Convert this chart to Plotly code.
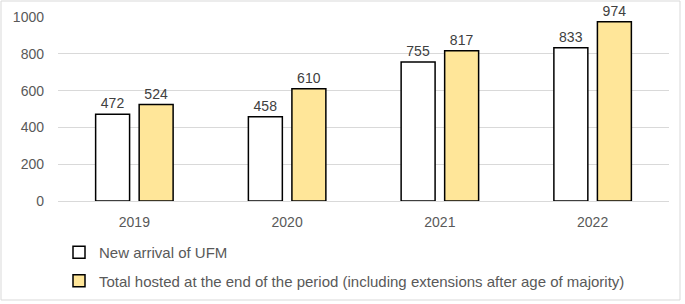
import plotly.graph_objects as go

years = ["2019", "2020", "2021", "2022"]
new_arrival = [472, 458, 755, 833]
total_hosted = [524, 610, 817, 974]
series_names = [
    "New arrival of UFM",
    "Total hosted at the end of the period (including extensions after age of majority)",
]
y_ticks = [0, 200, 400, 600, 800, 1000]

W, H = 685, 304
ML, MR, MT, MB = 58, 16, 17, 103
PW, PH = W - ML - MR, H - MT - MB

FONT = "Liberation Sans"
GRAY = "#595959"

fig = go.Figure()
fig.add_trace(go.Bar(
    x=years, y=new_arrival, name=series_names[0],
    marker=dict(color="#FFFFFF", line=dict(color="#000000", width=1.5)),
    text=[str(v) for v in new_arrival], textposition="outside",
    outsidetextfont=dict(family=FONT, size=14, color="#404040"),
    cliponaxis=False, legendgroup="a",
))
fig.add_trace(go.Bar(
    x=years, y=total_hosted, name=series_names[1],
    marker=dict(color="#FFE699", line=dict(color="#000000", width=1.5)),
    text=[str(v) for v in total_hosted], textposition="outside",
    outsidetextfont=dict(family=FONT, size=14, color="#404040"),
    cliponaxis=False, legendgroup="b",
))

def px_x(p):
    return (p - ML) / PW

def px_y(p):
    return (MT + PH - p) / PH

fig.update_layout(
    width=W, height=H,
    margin=dict(l=ML, r=MR, t=MT, b=MB, autoexpand=False),
    paper_bgcolor="white", plot_bgcolor="white",
    font=dict(family=FONT, size=14, color=GRAY),
    barmode="group", bargap=0.43, bargroupgap=0.22,
    showlegend=True,
    legend=dict(
        orientation="v", xref="container", yref="container",
        x=59 / W, y=(H - 236) / H, xanchor="left", yanchor="top",
        font=dict(family=FONT, size=15, color=GRAY), tracegroupgap=6,
        itemclick=False,
    ),
    xaxis=dict(showgrid=False, showline=True, linecolor="#D9D9D9", linewidth=1,
               ticks="", tickfont=dict(size=14, color=GRAY), automargin=False,
               ticklabelstandoff=8),
    yaxis=dict(range=[0, 1000], tickvals=y_ticks, showgrid=True, gridcolor="#D9D9D9",
               gridwidth=1, zeroline=False, showline=False, ticks="",
               tickfont=dict(size=14, color=GRAY), ticklabelstandoff=13,
               automargin=False),
    shapes=[dict(type="rect", xref="paper", yref="paper",
                 x0=px_x(1), x1=px_x(680), y0=px_y(1), y1=px_y(300),
                 line=dict(color="#D9D9D9", width=1), fillcolor="rgba(0,0,0,0)",
                 layer="below")],
)

fig.write_html("out.html", config={"displayModeBar": False},
               post_script="document.body.style.margin='0px';")
